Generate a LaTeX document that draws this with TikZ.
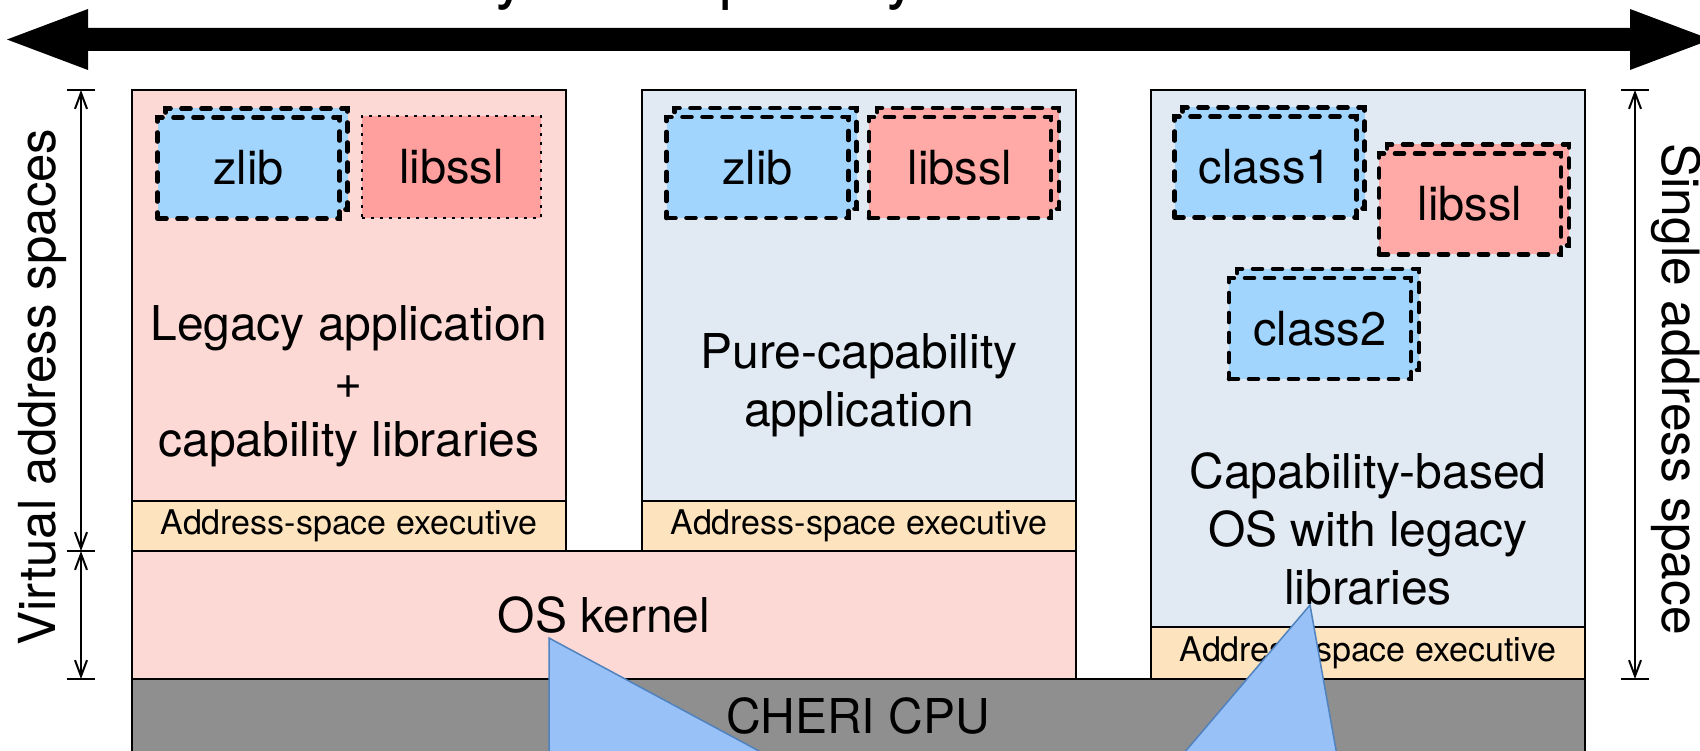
\documentclass[tikz,border=0pt]{standalone}
\usepackage{fontspec}
\setmainfont{TeX Gyre Heros}
\usetikzlibrary{arrows.meta}

\definecolor{legacypink}{RGB}{253,217,213}
\definecolor{purecap}{RGB}{225,233,243}
\definecolor{execpeach}{RGB}{254,228,190}
\definecolor{cpugray}{RGB}{143,143,143}
\definecolor{libblue}{RGB}{162,213,253}
\definecolor{sslred}{RGB}{255,160,158}
\definecolor{sslredlight}{RGB}{255,170,166}
\definecolor{calloutfill}{RGB}{152,193,248}
\definecolor{calloutdraw}{RGB}{80,130,190}

\tikzset{
  layer/.style={draw=black, line width=2.4pt, anchor=north west, inner sep=0pt, outer sep=0pt},
  bigtext/.style={font=\fontsize{48}{58}\selectfont, align=center, inner sep=0pt},
  exectext/.style={font=\fontsize{34}{40}\selectfont, inner sep=0pt},
  sidetext/.style={font=\fontsize{51}{60}\selectfont, inner sep=0pt},
  libshape/.style={minimum width=182pt, minimum height=101pt, inner sep=0pt, outer sep=0pt,
    font=\fontsize{47}{56}\selectfont},
  libdash/.style={libshape, draw=black, line width=4.6pt, dash pattern=on 9pt off 11pt, line cap=round},
  libdot/.style={libshape, draw=black, line width=2.8pt, dash pattern=on 2.8pt off 6.2pt},
  dimline/.style={line width=2pt,
    {Straight Barb[length=16pt,width=12pt]}-{Straight Barb[length=16pt,width=12pt]}},
  dimtick/.style={line width=2.2pt},
  callout/.style={fill=calloutfill, draw=calloutdraw, line width=1.5pt, line join=miter},
}

% a compartment: a dashed box with a second dashed outline behind it
\newcommand\compartment[4]{%
  \node[libdash, fill=#3, xshift=8pt, yshift=9pt] (#1back) at (#2) {};
  \node[libdash, fill=#3] (#1) at (#2) {#4};
}

\begin{document}
\begin{tikzpicture}[x=1pt,y=-1pt]
\useasboundingbox (0,0) rectangle (1700,751);
\begin{scope}
\clip (0,0) rectangle (1700,751);

% heading above the double arrow
\node[anchor=base west, font=\fontsize{64}{70}\selectfont, inner sep=0pt] (heading) at (449,-3) {Hybrid capability};

% double-headed arrow across the top
\fill (7,39.5) -- (88,9) -- (88,28) -- (1630,28) -- (1630,9) -- (1711,39.5)
      -- (1630,70) -- (1630,51) -- (88,51) -- (88,70) -- cycle;

% software layers
\node[layer, fill=legacypink, minimum width=434pt, minimum height=411pt] (legacy) at (132,90) {};
\node[layer, fill=purecap, minimum width=434pt, minimum height=411pt] (pure) at (642,90) {};
\node[layer, fill=purecap, minimum width=434pt, minimum height=537pt] (capos) at (1151,90) {};
\node[layer, fill=execpeach, minimum width=434pt, minimum height=50pt] (exec1) at (132,501) {};
\node[layer, fill=execpeach, minimum width=434pt, minimum height=50pt] (exec2) at (642,501) {};
\node[layer, fill=execpeach, minimum width=434pt, minimum height=52pt] (exec3) at (1151,627) {};
\node[layer, fill=legacypink, minimum width=944pt, minimum height=128pt] (kernel) at (132,551) {};
\node[layer, fill=cpugray, minimum width=1453pt, minimum height=120pt] (cpu) at (132,679) {};

% layer labels
\node[exectext] (exec1lbl) at (exec1) {Address-space executive};
\node[exectext] (exec2lbl) at (exec2) {Address-space executive};
\node[exectext] (exec3lbl) at (exec3) {Address-space executive};
\node[bigtext] (kernellbl) at (kernel) {OS kernel};
\node[bigtext] (cpulbl) at (858,716) {CHERI CPU};
\node[bigtext] (legacylbl) at (349,386) {Legacy application\\+\\capability libraries};
\node[bigtext] (purelbl) at (859,385) {Pure-capability\\application};
\node[bigtext] (caposlbl) at (1368,529) {Capability-based\\OS with legacy\\libraries};

% compartments
\compartment{lzlib}{248.5,168}{libblue}{zlib}
\node[libdot, fill=sslred, minimum width=179pt, minimum height=102pt] (lssl) at (451.5,167) {libssl};
\compartment{mzlib}{757.5,167.5}{libblue}{zlib}
\compartment{mssl}{960,167.5}{sslredlight}{libssl}
\compartment{class1}{1265.5,167}{libblue}{class1}
\compartment{rssl}{1470,204}{sslredlight}{libssl}
\compartment{class2}{1320,328.5}{libblue}{class2}

% address-space extents
\coordinate (vtop) at (81,90);
\coordinate (vmid) at (81,551);
\coordinate (vbot) at (81,679);
\coordinate (stop) at (1635,90);
\coordinate (sbot) at (1635,679);
\foreach \c in {vtop,vmid,vbot,stop,sbot}
  \draw[dimtick] ([xshift=-14pt]\c) -- ([xshift=14pt]\c);
\draw[dimline] (vtop) -- (vmid);
\draw[dimline] (vmid) -- (vbot);
\draw[dimline] (stop) -- (sbot);
\node[sidetext, rotate=90] (vlabel) at (42,387) {Virtual address spaces};
\node[sidetext, rotate=-90, font=\fontsize{51.5}{60}\selectfont] (slabel) at (1676,389) {Single address space};

% callout tails rising from below
\coordinate (kerneltip) at (549,638);
\coordinate (libtip) at (1310,605);
\draw[callout] (kerneltip) -- (850,800) -- (549,800) -- cycle;
\draw[callout] (libtip) -- (1345,800) -- (1144,800) -- cycle;
\end{scope}
\end{tikzpicture}
\end{document}
